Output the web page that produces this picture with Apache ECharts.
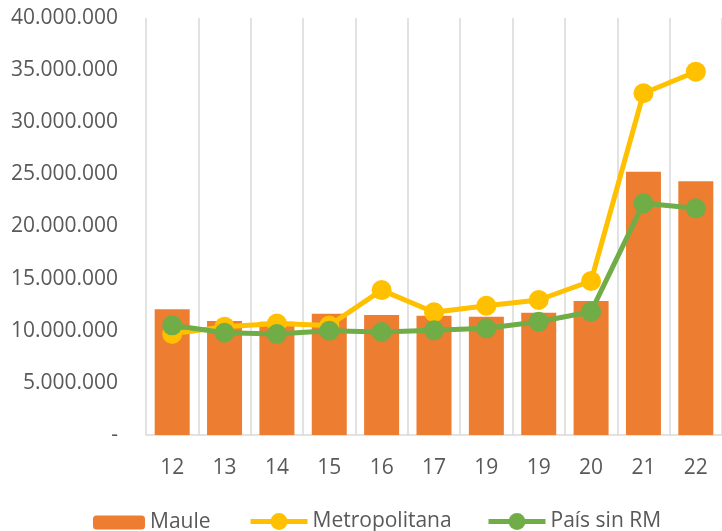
<!DOCTYPE html>
<html>
<head>
<meta charset="utf-8">
<script src="https://cdn.jsdelivr.net/npm/echarts@6/dist/echarts.min.js"></script>
<style>
  html, body { margin: 0; padding: 0; background: #fff; }
  #main { width: 722px; height: 531px; }
</style>
</head>
<body>
<div id="main"></div>
<script>
var years = ['12', '13', '14', '15', '16', '17', '19', '19', '20', '21', '22'];
var maule = [12060000, 10940000, 10870000, 11640000, 11510000, 11450000, 11350000, 11730000, 12850000, 25260000, 24330000];
var metropolitana = [9700000, 10390000, 10700000, 10500000, 13900000, 11770000, 12400000, 12950000, 14770000, 32780000, 34850000];
var paisSinRM = [10520000, 9810000, 9690000, 10000000, 9880000, 10040000, 10230000, 10870000, 11830000, 22220000, 21740000];

var myChart = echarts.init(document.getElementById('main'));

function fmt(v) {
    if (v === 0) return '-';
    return String(v).replace(/\B(?=(\d{3})+(?!\d))/g, '.');
}

var txt = '#595959';
var font = 'Open Sans';
var legendText = { color: txt, fontSize: 21, fontFamily: font };

var option = {
    animation: false,
    textStyle: { fontFamily: font },
    legend: [
        {
            left: 88,
            top: 507,
            itemWidth: 52,
            itemHeight: 14,
            textStyle: legendText,
            data: ['Maule']
        },
        {
            left: 243,
            top: 506,
            itemWidth: 57,
            itemHeight: 21,
            lineStyle: { width: 5 },
            textStyle: legendText,
            data: ['Metropolitana']
        },
        {
            left: 481,
            top: 506,
            itemWidth: 57,
            itemHeight: 21,
            lineStyle: { width: 5 },
            textStyle: legendText,
            data: ['País sin RM']
        }
    ],
    grid: {
        left: 146,
        right: -4,
        top: 18,
        bottom: 96,
        containLabel: false
    },
    xAxis: {
        type: 'category',
        data: years,
        axisLine: { lineStyle: { color: '#d9d9d9', width: 1.5 } },
        axisTick: { show: false },
        axisLabel: { color: txt, fontSize: 21, fontFamily: font, margin: 23 },
        splitLine: { show: true, lineStyle: { color: '#d9d9d9', width: 1.5 } }
    },
    yAxis: {
        type: 'value',
        min: 0,
        max: 40000000,
        interval: 5000000,
        axisLine: { show: false },
        axisTick: { show: false },
        splitLine: { show: false },
        axisLabel: { color: txt, fontSize: 21, fontFamily: font, margin: 28, formatter: fmt }
    },
    series: [
        {
            name: 'Maule',
            type: 'bar',
            data: maule,
            barWidth: 35,
            itemStyle: { color: '#ED7D31' }
        },
        {
            name: 'Metropolitana',
            type: 'line',
            data: metropolitana,
            symbol: 'circle',
            symbolSize: 20,
            lineStyle: { color: '#FFC000', width: 5 },
            itemStyle: { color: '#FFC000' }
        },
        {
            name: 'País sin RM',
            type: 'line',
            data: paisSinRM,
            symbol: 'circle',
            symbolSize: 20,
            lineStyle: { color: '#70AD47', width: 5 },
            itemStyle: { color: '#70AD47' }
        }
    ]
};

myChart.setOption(option);
</script>
</body>
</html>
